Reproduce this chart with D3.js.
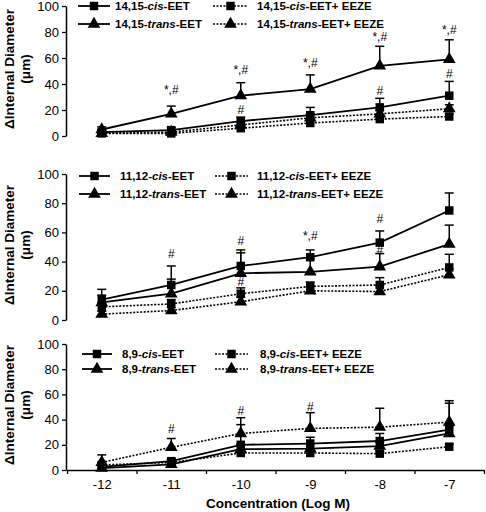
<!DOCTYPE html>
<html><head><meta charset="utf-8">
<script src="https://cdn.jsdelivr.net/npm/d3@7"></script>
<style>body{margin:0;background:#fff}svg{display:block}text{font-family:"Liberation Sans",Arial,sans-serif}</style>
</head><body>
<svg id="c" width="486" height="512"></svg>
<script>
const concentrations = ["-12","-11","-10","-9","-8","-7"];
const yTicks = [0,20,40,60,80,100];

// Panel 1: 14,15-EET
const p1Prefix = "14,15";
const p1Cis = [3, 4.5, 11.5, 16, 22, 31];
const p1CisErr = [2, 2, 3, 6, 7, 11];
const p1Trans = [5, 17, 31, 36, 54, 59];
const p1TransErr = [2, 6, 10, 11, 15, 15];
const p1CisEEZE = [2, 2, 6, 10, 13, 15];
const p1CisEEZEErr = [1, 1, 2, 2, 3, 2];
const p1TransEEZE = [2, 3, 8.5, 14, 17, 21];
const p1TransEEZEErr = [1, 1, 2, 3, 3, 3];
const p1NoteX = ["-11","-10","-9","-8","-7","-10","-8","-7"];
const p1NoteY = [32, 48, 53, 73, 78.5, 17, 31.5, 44.6];
const p1NoteText = ["*,#","*,#","*,#","*,#","*,#","#","#","#"];

// Panel 2: 11,12-EET
const p2Prefix = "11,12";
const p2Cis = [14, 24, 37, 43, 53, 75];
const p2CisErr = [7, 13, 11, 5, 8, 12];
const p2Trans = [12, 18, 32, 33, 36.5, 52];
const p2TransErr = [5, 10, 14, 9, 9, 13];
const p2CisEEZE = [9, 11, 18, 23, 24, 36];
const p2CisEEZEErr = [3, 3, 4, 3, 5, 9];
const p2TransEEZE = [4, 6.5, 12.5, 20, 19.5, 31];
const p2TransEEZEErr = [2, 2, 3, 3, 4, 4];
const p2NoteX = ["-11","-10","-10","-9","-8","-8"];
const p2NoteY = [42.5, 51.5, 23.5, 55, 66.5, 45];
const p2NoteText = ["#","#","#","*,#","#","#"];

// Panel 3: 8,9-EET
const p3Prefix = "8,9";
const p3Cis = [2.5, 7, 20, 21, 23, 32];
const p3CisErr = [2, 2, 16, 5, 6, 21];
const p3Trans = [1.5, 4.5, 16.5, 17, 19, 29];
const p3TransErr = [2, 2, 4, 4, 3, 6];
const p3CisEEZE = [4, 6, 13.5, 13.5, 13, 18.5];
const p3CisEEZEErr = [2, 2, 2, 2, 2, 2];
const p3TransEEZE = [6, 18, 29, 33, 34, 38];
const p3TransEEZEErr = [6, 7, 12.5, 12.5, 15, 17];
const p3NoteX = ["-11","-10","-9"];
const p3NoteY = [29, 44, 47];
const p3NoteText = ["#","#","#"];

const svg = d3.select("#c");
const X0 = 67, X1 = 484, AXIS_X = 66;
const xPoint = d3.scalePoint().domain(concentrations).range([X0, X1]).padding(0.5);
const xIdx = d3.scaleLinear().domain([0, concentrations.length]).range([X0, X1]);

const panels = [
  {prefix:p1Prefix, top:6, bottom:136, series:[p1Cis,p1Trans,p1CisEEZE,p1TransEEZE], errs:[p1CisErr,p1TransErr,p1CisEEZEErr,p1TransEEZEErr],
   nx:p1NoteX, ny:p1NoteY, nt:p1NoteText, leg:{y1:6, y2:24, lx0:78, lx1:110, tx:115, dx0:213, dx1:248, dtx:257}, xaxis:false},
  {prefix:p2Prefix, top:174, bottom:320, series:[p2Cis,p2Trans,p2CisEEZE,p2TransEEZE], errs:[p2CisErr,p2TransErr,p2CisEEZEErr,p2TransEEZEErr],
   nx:p2NoteX, ny:p2NoteY, nt:p2NoteText, leg:{y1:176, y2:194, lx0:79, lx1:110, tx:120, dx0:215, dx1:248, dtx:257}, xaxis:false},
  {prefix:p3Prefix, top:344, bottom:470, series:[p3Cis,p3Trans,p3CisEEZE,p3TransEEZE], errs:[p3CisErr,p3TransErr,p3CisEEZEErr,p3TransEEZEErr],
   nx:p3NoteX, ny:p3NoteY, nt:p3NoteText, leg:{y1:354, y2:369, lx0:82, lx1:112, tx:122, dx0:215, dx1:248, dtx:260}, xaxis:true}
];

const markerTypes = [d3.symbolSquare, d3.symbolTriangle, d3.symbolSquare, d3.symbolTriangle];
const markerSizes = [72, 70, 72, 70];
const dashed = [false, false, true, true];

panels.forEach(p => {
  const y = d3.scaleLinear().domain([0,100]).range([p.bottom, p.top]);
  const g = svg.append("g");

  // y axis
  const ya = g.append("g").attr("transform", `translate(${AXIS_X},0)`)
    .call(d3.axisLeft(y).tickValues(yTicks).tickSize(4).tickPadding(3).tickSizeOuter(0));
  ya.select(".domain").attr("stroke","#000").attr("stroke-width",1.5);
  ya.selectAll(".tick line").attr("stroke","#000").attr("stroke-width",1.3);
  ya.selectAll("text").attr("font-size",13).attr("fill","#000").style("font-family","Liberation Sans, Arial, sans-serif");

  // y title
  const cy = (p.top + p.bottom)/2 - 2;
  const t = g.append("text").attr("transform", `translate(14,${cy}) rotate(-90)`)
    .attr("text-anchor","middle").attr("font-weight","bold").attr("font-size",13.5);
  t.append("tspan").attr("x",0).attr("dy",0).text("\u0394Internal Diameter");
  t.append("tspan").attr("x",0).attr("dy",16).text("(\u03bcm)");

  if (p.xaxis) {
    const xa = g.append("g").attr("transform", `translate(0,${p.bottom})`)
      .call(d3.axisBottom(xIdx).tickValues(d3.range(concentrations.length+1)).tickFormat("").tickSize(4).tickSizeOuter(0));
    xa.select(".domain").attr("stroke","#000").attr("stroke-width",1.5);
    xa.selectAll(".tick line").attr("stroke","#000").attr("stroke-width",1.3);
    const xl = g.append("g").attr("transform", `translate(0,${p.bottom})`)
      .call(d3.axisBottom(xPoint).tickSize(0).tickPadding(10));
    xl.select(".domain").remove();
    xl.selectAll("text").attr("font-size",13).attr("fill","#000").style("font-family","Liberation Sans, Arial, sans-serif");
    g.append("text").attr("x",278).attr("y",508).attr("text-anchor","middle")
      .attr("font-weight","bold").attr("font-size",13.5).text("Concentration (Log M)");
  }

  // error bars
  p.series.forEach((vals, si) => {
    const errs = p.errs[si];
    vals.forEach((v, i) => {
      const cx = xPoint(concentrations[i]);
      g.append("line").attr("x1",cx).attr("x2",cx).attr("y1",y(v)).attr("y2",y(v+errs[i]))
        .attr("stroke","#000").attr("stroke-width",1.5);
      g.append("line").attr("x1",cx-4.5).attr("x2",cx+4.5).attr("y1",y(v+errs[i])).attr("y2",y(v+errs[i]))
        .attr("stroke","#000").attr("stroke-width",1.5);
    });
  });

  // lines
  const line = d3.line().x((d,i)=>xPoint(concentrations[i])).y(d=>y(d));
  p.series.forEach((vals, si) => {
    g.append("path").attr("d", line(vals)).attr("fill","none").attr("stroke","#000")
      .attr("stroke-width", dashed[si] ? 1.6 : 1.8)
      .attr("stroke-dasharray", dashed[si] ? "2,1.5" : null);
  });

  // markers
  p.series.forEach((vals, si) => {
    vals.forEach((v, i) => {
      g.append("path").attr("d", d3.symbol().type(markerTypes[si]).size(markerSizes[si])())
        .attr("transform", `translate(${xPoint(concentrations[i])},${y(v)})`).attr("fill","#000");
    });
  });

  // annotations
  p.nx.forEach((c, i) => {
    g.append("text").attr("x", xPoint(c)).attr("y", y(p.ny[i])).attr("text-anchor","middle")
      .attr("font-size",12).attr("fill","#000").text(p.nt[i]);
  });

  // legend
  const L = p.leg;
  const rows = [
    {y:L.y1, x0:L.lx0, x1:L.lx1, tx:L.tx, si:0, iso:"cis", suf:"-EET"},
    {y:L.y2, x0:L.lx0, x1:L.lx1, tx:L.tx, si:1, iso:"trans", suf:"-EET"},
    {y:L.y1, x0:L.dx0, x1:L.dx1, tx:L.dtx, si:2, iso:"cis", suf:"-EET+ EEZE"},
    {y:L.y2, x0:L.dx0, x1:L.dx1, tx:L.dtx, si:3, iso:"trans", suf:"-EET+ EEZE"}
  ];
  rows.forEach(r => {
    g.append("line").attr("x1",r.x0).attr("x2",r.x1).attr("y1",r.y).attr("y2",r.y)
      .attr("stroke","#000").attr("stroke-width", dashed[r.si] ? 1.6 : 1.8)
      .attr("stroke-dasharray", dashed[r.si] ? "2,1.5" : null);
    g.append("path").attr("d", d3.symbol().type(markerTypes[r.si]).size(markerSizes[r.si])())
      .attr("transform", `translate(${(r.x0+r.x1)/2},${r.y})`).attr("fill","#000");
    const tt = g.append("text").attr("x", r.tx).attr("y", r.y+4).attr("font-size",11.5).attr("font-weight","bold");
    tt.append("tspan").text(p.prefix + "-");
    tt.append("tspan").attr("font-style","italic").text(r.iso);
    tt.append("tspan").text(r.suf);
  });
});
</script>
</body></html>
